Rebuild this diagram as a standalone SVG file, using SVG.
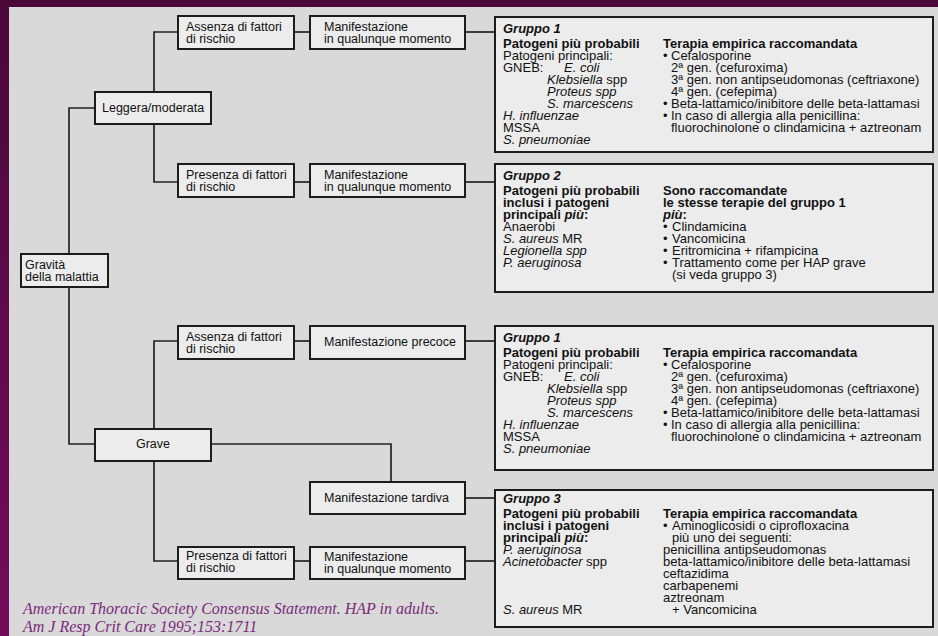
<svg xmlns="http://www.w3.org/2000/svg" width="938" height="636" viewBox="0 0 938 636">
<defs>
<linearGradient id="bg" x1="0" y1="0" x2="0" y2="1">
<stop offset="0" stop-color="#4a0838"/>
<stop offset="1" stop-color="#740c5c"/>
</linearGradient>
<style>
.box{fill:#ececec;stroke:#1c1c1c;stroke-width:2}
.grp{fill:#ececec;stroke:#1c1c1c;stroke-width:2}
.con{fill:none;stroke:#222;stroke-width:1.7}
text{font-family:"Liberation Sans",Arial,sans-serif;fill:#111}
.n{font-size:12.5px}
.g{font-size:13px}
.b{font-weight:bold}
.i{font-style:italic}
.cit{font-family:"Liberation Serif","Times New Roman",serif;font-style:italic;font-size:16px;fill:#7a2a7a}
</style>
</defs>
<rect x="0" y="0" width="938" height="636" fill="url(#bg)"/>
<rect x="9" y="7" width="929" height="629" fill="#d9d9d9"/>

<g id="connectors">
<path class="con" d="M465,32 H495"/>
<path class="con" d="M465,182 H495"/>
<path class="con" d="M294,32 H310"/>
<path class="con" d="M294,182 H310"/>
<path class="con" d="M178,32 H154 V92"/>
<path class="con" d="M154,124 V182 H178"/>
<path class="con" d="M95,108 H69 V254"/>
<path class="con" d="M69,287 V444 H95"/>
<path class="con" d="M154,429 V341 H178"/>
<path class="con" d="M294,341 H310"/>
<path class="con" d="M465,341 H495"/>
<path class="con" d="M211,444 H391 V482"/>
<path class="con" d="M465,498 H495"/>
<path class="con" d="M154,461 V561 H178"/>
<path class="con" d="M294,561 H310"/>
<path class="con" d="M465,561 H495"/>
</g>

<g id="gravita">
<rect class="box" x="21" y="254" width="87" height="33"/>
<text class="n" x="25" y="269">Gravità</text>
<text class="n" x="25" y="281">della malattia</text>
</g>

<g id="leggera">
<rect class="box" x="95" y="92" width="116" height="32"/>
<text class="n" x="102" y="112">Leggera/moderata</text>
</g>

<g id="grave">
<rect class="box" x="95" y="429" width="116" height="32"/>
<text class="n" x="153" y="448" text-anchor="middle">Grave</text>
</g>

<g id="assenza1">
<rect class="box" x="178" y="16" width="116" height="33"/>
<text class="n" x="186" y="31">Assenza di fattori</text>
<text class="n" x="186" y="43">di rischio</text>
</g>

<g id="manif1">
<rect class="box" x="310" y="16" width="155" height="33"/>
<text class="n" x="324" y="31">Manifestazione</text>
<text class="n" x="324" y="43">in qualunque momento</text>
</g>

<g id="presenza1">
<rect class="box" x="178" y="164" width="116" height="33"/>
<text class="n" x="186" y="179">Presenza di fattori</text>
<text class="n" x="186" y="191">di rischio</text>
</g>

<g id="manif2">
<rect class="box" x="310" y="164" width="155" height="33"/>
<text class="n" x="324" y="179">Manifestazione</text>
<text class="n" x="324" y="191">in qualunque momento</text>
</g>

<g id="assenza2">
<rect class="box" x="178" y="326" width="116" height="33"/>
<text class="n" x="186" y="341">Assenza di fattori</text>
<text class="n" x="186" y="353">di rischio</text>
</g>

<g id="precoce">
<rect class="box" x="310" y="326" width="155" height="33"/>
<text class="n" x="324" y="346">Manifestazione precoce</text>
</g>

<g id="tardiva">
<rect class="box" x="310" y="482" width="155" height="32"/>
<text class="n" x="324" y="502">Manifestazione tardiva</text>
</g>

<g id="presenza2">
<rect class="box" x="178" y="547" width="116" height="32"/>
<text class="n" x="186" y="560">Presenza di fattori</text>
<text class="n" x="186" y="572">di rischio</text>
</g>

<g id="manif3">
<rect class="box" x="310" y="547" width="155" height="32"/>
<text class="n" x="324" y="561">Manifestazione</text>
<text class="n" x="324" y="573">in qualunque momento</text>
</g>

<g id="gruppo1a">
<rect class="grp" x="495" y="17" width="438" height="135"/>
<text class="g b i" x="503" y="33">Gruppo 1</text>
<text class="g b" x="503" y="48">Patogeni più probabili</text>
<text class="g" x="503" y="60">Patogeni principali:</text>
<text class="g" x="503" y="72">GNEB:</text>
<text class="g i" x="564" y="72">E. coli</text>
<text class="g" x="547" y="84"><tspan class="i">Klebsiella</tspan> spp</text>
<text class="g i" x="547" y="96">Proteus spp</text>
<text class="g i" x="547" y="108">S. marcescens</text>
<text class="g i" x="503" y="120">H. influenzae</text>
<text class="g" x="503" y="132">MSSA</text>
<text class="g i" x="503" y="144">S. pneumoniae</text>
<text class="g b" x="663" y="48">Terapia empirica raccomandata</text>
<text class="g" x="663" y="60">•</text>
<text class="g" x="671" y="60">Cefalosporine</text>
<text class="g" x="671" y="72">2ª gen. (cefuroxima)</text>
<text class="g" x="671" y="84">3ª gen. non antipseudomonas (ceftriaxone)</text>
<text class="g" x="671" y="96">4ª gen. (cefepima)</text>
<text class="g" x="663" y="108">•</text>
<text class="g" x="671" y="108">Beta-lattamico/inibitore delle beta-lattamasi</text>
<text class="g" x="663" y="120">•</text>
<text class="g" x="671" y="120">In caso di allergia alla penicillina:</text>
<text class="g" x="671" y="132">fluorochinolone o clindamicina + aztreonam</text>
</g>

<g id="gruppo2">
<rect class="grp" x="495" y="164" width="438" height="128"/>
<text class="g b i" x="503" y="180">Gruppo 2</text>
<text class="g b" x="503" y="195">Patogeni più probabili</text>
<text class="g b" x="503" y="207">inclusi i patogeni</text>
<text class="g b" x="503" y="219">principali <tspan class="i">più</tspan>:</text>
<text class="g" x="503" y="231">Anaerobi</text>
<text class="g" x="503" y="243"><tspan class="i">S. aureus</tspan> MR</text>
<text class="g i" x="503" y="255">Legionella spp</text>
<text class="g i" x="503" y="267">P. aeruginosa</text>
<text class="g b" x="663" y="195">Sono raccomandate</text>
<text class="g b" x="663" y="207">le stesse terapie del gruppo 1</text>
<text class="g b" x="663" y="219"><tspan class="i">più</tspan>:</text>
<text class="g" x="663" y="231">•</text>
<text class="g" x="672" y="231">Clindamicina</text>
<text class="g" x="663" y="243">•</text>
<text class="g" x="672" y="243">Vancomicina</text>
<text class="g" x="663" y="255">•</text>
<text class="g" x="672" y="255">Eritromicina + rifampicina</text>
<text class="g" x="663" y="267">•</text>
<text class="g" x="672" y="267">Trattamento come per HAP grave</text>
<text class="g" x="672" y="279">(si veda gruppo 3)</text>
</g>

<g id="gruppo1b">
<rect class="grp" x="495" y="326" width="438" height="144"/>
<text class="g b i" x="503" y="342">Gruppo 1</text>
<text class="g b" x="503" y="357">Patogeni più probabili</text>
<text class="g" x="503" y="369">Patogeni principali:</text>
<text class="g" x="503" y="381">GNEB:</text>
<text class="g i" x="564" y="381">E. coli</text>
<text class="g" x="547" y="393"><tspan class="i">Klebsiella</tspan> spp</text>
<text class="g i" x="547" y="405">Proteus spp</text>
<text class="g i" x="547" y="417">S. marcescens</text>
<text class="g i" x="503" y="429">H. influenzae</text>
<text class="g" x="503" y="441">MSSA</text>
<text class="g i" x="503" y="453">S. pneumoniae</text>
<text class="g b" x="663" y="357">Terapia empirica raccomandata</text>
<text class="g" x="663" y="369">•</text>
<text class="g" x="671" y="369">Cefalosporine</text>
<text class="g" x="671" y="381">2ª gen. (cefuroxima)</text>
<text class="g" x="671" y="393">3ª gen. non antipseudomonas (ceftriaxone)</text>
<text class="g" x="671" y="405">4ª gen. (cefepima)</text>
<text class="g" x="663" y="417">•</text>
<text class="g" x="671" y="417">Beta-lattamico/inibitore delle beta-lattamasi</text>
<text class="g" x="663" y="429">•</text>
<text class="g" x="671" y="429">In caso di allergia alla penicillina:</text>
<text class="g" x="671" y="441">fluorochinolone o clindamicina + aztreonam</text>
</g>

<g id="gruppo3">
<rect class="grp" x="495" y="490" width="438" height="137"/>
<text class="g b i" x="503" y="503">Gruppo 3</text>
<text class="g b" x="503" y="518">Patogeni più probabili</text>
<text class="g b" x="503" y="530">inclusi i patogeni</text>
<text class="g b" x="503" y="542">principali <tspan class="i">più</tspan>:</text>
<text class="g i" x="503" y="554">P. aeruginosa</text>
<text class="g" x="503" y="566"><tspan class="i">Acinetobacter</tspan> spp</text>
<text class="g" x="503" y="614"><tspan class="i">S. aureus</tspan> MR</text>
<text class="g b" x="663" y="518">Terapia empirica raccomandata</text>
<text class="g" x="663" y="530">•</text>
<text class="g" x="672" y="530">Aminoglicosidi o ciprofloxacina</text>
<text class="g" x="672" y="542">più uno dei seguenti:</text>
<text class="g" x="663" y="554">penicillina antipseudomonas</text>
<text class="g" x="663" y="566">beta-lattamico/inibitore delle beta-lattamasi</text>
<text class="g" x="663" y="578">ceftazidima</text>
<text class="g" x="663" y="590">carbapenemi</text>
<text class="g" x="663" y="602">aztreonam</text>
<text class="g" x="672" y="614">+ Vancomicina</text>
</g>

<g id="citation">
<text class="cit" x="23" y="614">American Thoracic Society Consensus Statement. HAP in adults.</text>
<text class="cit" x="23" y="632">Am J Resp Crit Care 1995;153:1711</text>
</g>
</svg>
